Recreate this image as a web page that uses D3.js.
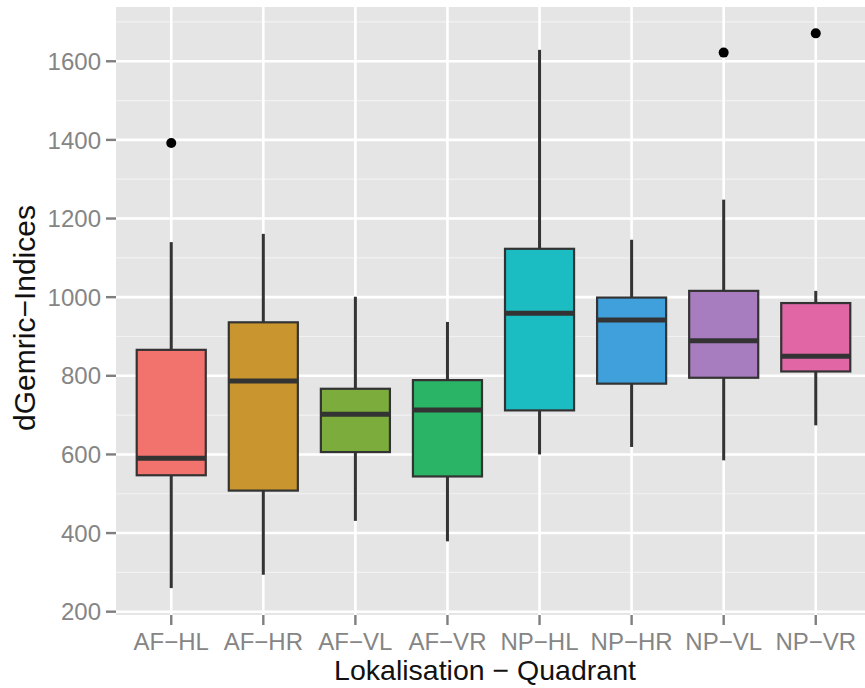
<!DOCTYPE html>
<html>
<head>
<meta charset="utf-8">
<script src="https://cdn.jsdelivr.net/npm/d3@7"></script>
<style>
  html, body { margin: 0; padding: 0; background: #ffffff; }
  svg { display: block; font-family: "Liberation Sans", Arial, sans-serif; }
</style>
</head>
<body>
<svg id="chart" width="865" height="688"></svg>
<script>
// Groups (localisation – quadrant)
const categories = ["AF-HL", "AF-HR", "AF-VL", "AF-VR", "NP-HL", "NP-HR", "NP-VL", "NP-VR"];
// Five-number summaries per group
const whiskerLow  = [260, 294, 431, 379, 600, 619, 585, 674];
const q1          = [547, 508, 606, 544, 712, 780, 795, 811];
const medians     = [590, 787, 702, 713, 959, 942, 889, 850];
const q3          = [866, 936, 767, 789, 1123, 999, 1016, 985];
const whiskerHigh = [1140, 1161, 1001, 937, 1629, 1146, 1248, 1016];
// Outliers: [group, value]
const outliers = [["AF-HL", 1392], ["NP-VL", 1622], ["NP-VR", 1671]];
// Fill colours per group
const fills = ["#F2736E", "#C8952E", "#7CAD3C", "#2AB466", "#1CBDC2", "#3FA0DC", "#A87DBF", "#E066A6"];
const yTicks = [200, 400, 600, 800, 1000, 1200, 1400, 1600];
const yMinor = [300, 500, 700, 900, 1100, 1300, 1500, 1700];

const svg = d3.select("#chart");
const panel = { left: 116, top: 7, right: 871, bottom: 615 };

const x = d3.scalePoint().domain(categories).range([panel.left, panel.right]).padding(0.6);
const y = d3.scaleLinear().domain([191.6, 1738]).range([panel.bottom, panel.top]);
const boxW = x.step() * 0.75;
const color = d3.scaleOrdinal().domain(categories).range(fills);

// panel background
svg.append("rect")
  .attr("x", panel.left).attr("y", panel.top)
  .attr("width", panel.right - panel.left).attr("height", panel.bottom - panel.top)
  .attr("fill", "#e5e5e5");

// minor gridlines
svg.append("g").selectAll("line").data(yMinor).join("line")
  .attr("x1", panel.left).attr("x2", panel.right)
  .attr("y1", d => y(d)).attr("y2", d => y(d))
  .attr("stroke", "#f2f2f2").attr("stroke-width", 1.2);

// major gridlines
svg.append("g").selectAll("line").data(yTicks).join("line")
  .attr("x1", panel.left).attr("x2", panel.right)
  .attr("y1", d => y(d)).attr("y2", d => y(d))
  .attr("stroke", "#ffffff").attr("stroke-width", 2.6);
svg.append("g").selectAll("line").data(categories).join("line")
  .attr("x1", d => x(d)).attr("x2", d => x(d))
  .attr("y1", panel.top).attr("y2", panel.bottom)
  .attr("stroke", "#ffffff").attr("stroke-width", 2.6);

// boxplots
const rows = categories.map((c, i) => ({
  c, lo: whiskerLow[i], q1: q1[i], med: medians[i], q3: q3[i], hi: whiskerHigh[i]
}));
const g = svg.append("g").selectAll("g").data(rows).join("g");
g.append("line")
  .attr("x1", d => x(d.c)).attr("x2", d => x(d.c))
  .attr("y1", d => y(d.hi)).attr("y2", d => y(d.q3))
  .attr("stroke", "#333333").attr("stroke-width", 3);
g.append("line")
  .attr("x1", d => x(d.c)).attr("x2", d => x(d.c))
  .attr("y1", d => y(d.q1)).attr("y2", d => y(d.lo))
  .attr("stroke", "#333333").attr("stroke-width", 3);
g.append("rect")
  .attr("x", d => x(d.c) - boxW / 2).attr("width", boxW)
  .attr("y", d => y(d.q3)).attr("height", d => y(d.q1) - y(d.q3))
  .attr("fill", d => color(d.c))
  .attr("stroke", "#333333").attr("stroke-width", 2.2);
g.append("line")
  .attr("x1", d => x(d.c) - boxW / 2).attr("x2", d => x(d.c) + boxW / 2)
  .attr("y1", d => y(d.med)).attr("y2", d => y(d.med))
  .attr("stroke", "#333333").attr("stroke-width", 5);

// outliers
svg.append("g").selectAll("circle").data(outliers).join("circle")
  .attr("cx", d => x(d[0])).attr("cy", d => y(d[1]))
  .attr("r", 5).attr("fill", "#000000");

// y axis
const yAxis = svg.append("g");
yAxis.selectAll("line").data(yTicks).join("line")
  .attr("x1", panel.left - 10).attr("x2", panel.left)
  .attr("y1", d => y(d)).attr("y2", d => y(d))
  .attr("stroke", "#7f7f7f").attr("stroke-width", 2.4);
yAxis.selectAll("text").data(yTicks).join("text")
  .attr("x", panel.left - 15).attr("y", d => y(d))
  .attr("dy", "0.36em").attr("text-anchor", "end")
  .attr("font-size", 24).attr("fill", "#858585")
  .text(d => d);

// x axis
const xAxis = svg.append("g");
xAxis.selectAll("line").data(categories).join("line")
  .attr("x1", d => x(d)).attr("x2", d => x(d))
  .attr("y1", panel.bottom).attr("y2", panel.bottom + 10)
  .attr("stroke", "#7f7f7f").attr("stroke-width", 2.4);
xAxis.selectAll("text").data(categories).join("text")
  .attr("x", d => x(d)).attr("y", 650)
  .attr("text-anchor", "middle")
  .attr("font-size", 24).attr("fill", "#858585")
  .text(d => d.replace("-", "\u2212"));

// axis titles
svg.append("text")
  .attr("x", 485).attr("y", 680)
  .attr("text-anchor", "middle").attr("font-size", 28.5).attr("fill", "#111111")
  .text("Lokalisation \u2212 Quadrant");
svg.append("text")
  .attr("transform", `translate(35, 318) rotate(-90)`)
  .attr("text-anchor", "middle").attr("font-size", 30).attr("fill", "#111111")
  .text("dGemric\u2212Indices");
</script>
</body>
</html>
